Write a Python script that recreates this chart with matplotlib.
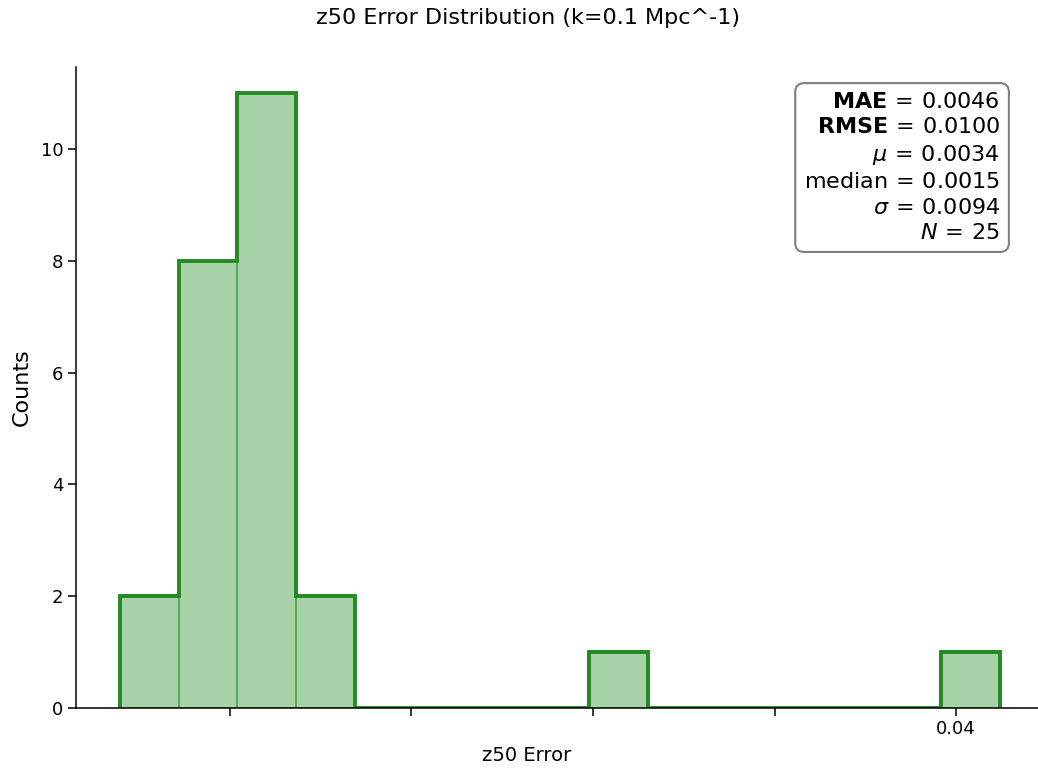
import numpy as np
import matplotlib.pyplot as plt

# histogram of z50 errors (bin edges + counts)
bin_lo = -0.00606
bin_hi = 0.04242
counts = [2, 8, 11, 2, 0, 0, 0, 0, 1, 0, 0, 0, 0, 0, 1]
xticks = [0.0, 0.01, 0.02, 0.03, 0.04]
xticklabels = ["", "", "", "", "0.04"]
stats = [r"$\mathbf{MAE}\,=\,0.0046$",
         r"$\mathbf{RMSE}\,=\,0.0100$",
         r"$\mu\,=\,0.0034$",
         r"$\mathrm{median}\,=\,0.0015$",
         r"$\sigma\,=\,0.0094$",
         r"$N\,=\,25$"]

edges = np.linspace(bin_lo, bin_hi, len(counts) + 1)
centers = (edges[:-1] + edges[1:]) / 2

fig = plt.figure(figsize=(10.38, 7.69), dpi=100)
ax = fig.add_axes([76 / 1038, 1 - 708 / 769, (1044 - 76) / 1038, (708 - 67) / 769])

ax.hist(centers, bins=edges, weights=counts, color="green", alpha=0.34,
        edgecolor="green", linewidth=1.2)
ax.hist(centers, bins=edges, weights=counts, histtype="step",
        color="forestgreen", linewidth=2.8)

ax.set_xlim(-0.00848, 0.04484)
ax.set_ylim(0, 11.47)
ax.set_yticks([0, 2, 4, 6, 8, 10])
ax.set_xticks(xticks)
ax.set_xticklabels(xticklabels)
ax.tick_params(labelsize=13, length=5.5, width=1.1)
ax.spines["top"].set_visible(False)
ax.spines["right"].set_visible(False)
for s in ("left", "bottom"):
    ax.spines[s].set_linewidth(1.1)

ax.set_ylabel("Counts", fontsize=16)
ax.set_xlabel("z50 Error", fontsize=14)
ax.yaxis.set_label_coords(-0.046, 0.5)
ax.xaxis.set_label_coords((527 - 76) / (1044 - 76), -0.06)
fig.text(528 / 1038, 1 - 18 / 769, "z50 Error Distribution (k=0.1 Mpc^-1)",
         ha="center", va="center", fontsize=16)

fig.text(1000 / 1038, 1 - 92 / 769, "\n".join(stats), ha="right", va="top",
         fontsize=16, linespacing=1.33,
         bbox=dict(boxstyle="round,pad=0.4", facecolor="white",
                   edgecolor="gray", linewidth=1.5))

fig.savefig("out.png", dpi=100)
